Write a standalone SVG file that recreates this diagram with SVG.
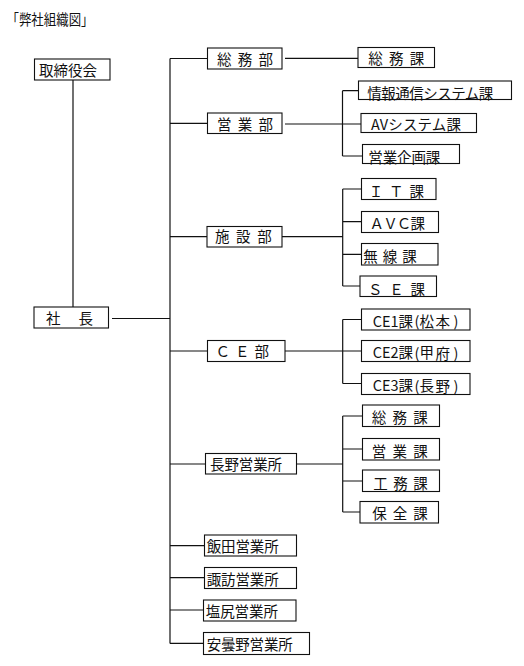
<svg xmlns="http://www.w3.org/2000/svg" width="524" height="666" viewBox="0 0 524 666">
<style>
.box{fill:#fff;stroke:#111;stroke-width:1.1}
.t{font-family:"Noto Sans CJK JP","Noto Sans CJK SC",sans-serif;font-size:14.5px;fill:#111;dominant-baseline:central}
.ln{fill:none;stroke:#111;stroke-width:1.2}
</style>
<rect width="524" height="666" fill="#fff"/>
<text class="t" x="6.5" y="18" font-size="12.5" textLength="87" lengthAdjust="spacingAndGlyphs">「弊社組織図」</text>
<g id="connectors" class="ln">
<path d="M73 80V307"/>
<path d="M112 318.5H170"/>
<path d="M170 58.5V643.5"/>
<path d="M170 58.5H207.5M170 123.3H207.5M170 236.7H207M170 351H207.5M170 464H205.5M170 545.7H204.5M170 577.7H204.5M170 610H203.5M170 643.3H203.5"/>
<path d="M285 58.3H358"/>
<path d="M285 124H342.5M342.5 90.7V156M342.5 90.7H358.5M342.5 124H361M342.5 156H362.5"/>
<path d="M282 236.7H342.7M342.7 189V286M342.7 189H361.5M342.7 221.7H361.5M342.7 254.3H361.5M342.7 286H360"/>
<path d="M285 351H342.7M342.7 319.5V383.5M342.7 319.5H361.5M342.7 351H361.5M342.7 383.5H361.5"/>
<path d="M296.7 464H342.7M342.7 416V512M342.7 416H362.5M342.7 449H362.5M342.7 481H362.5M342.7 512H360"/>
</g>
<g id="n-torishimariyakukai"><rect class="box" x="34.5" y="59" width="75.5" height="21"/><text class="t" x="39" y="69.6" textLength="58">取締役会</text></g>
<g id="n-shacho"><rect class="box" x="34" y="307" width="74.5" height="21"/><text class="t" x="46" y="317.5" textLength="47">社　長</text></g>
<g id="n-somubu"><rect class="box" x="207.5" y="48" width="74.5" height="21"/><text class="t" x="217" y="58.4" textLength="56">総 務 部</text></g>
<g id="n-somuka1"><rect class="box" x="358" y="47.5" width="76.5" height="20"/><text class="t" x="368.3" y="57.5" textLength="56">総 務 課</text></g>
<g id="n-eigyobu"><rect class="box" x="207.5" y="113" width="74.5" height="20.5"/><text class="t" x="217" y="123.3" textLength="56">営 業 部</text></g>
<g id="n-joho"><rect class="box" x="358.5" y="81" width="153" height="18.5"/><text class="t" x="367.3" y="92" textLength="126">情報通信システム課</text></g>
<g id="n-avsys"><rect class="box" x="361" y="113.5" width="115.5" height="19"/><text class="t" x="371" y="123.3" textLength="90">AVシステム課</text></g>
<g id="n-kikaku"><rect class="box" x="362.5" y="144.5" width="97" height="19"/><text class="t" x="368.3" y="156.3" textLength="72">営業企画課</text></g>
<g id="n-shisetsubu"><rect class="box" x="207" y="226.5" width="75" height="20.5"/><text class="t" x="215" y="235.8" textLength="56.7">施 設 部</text></g>
<g id="n-it"><rect class="box" x="361.5" y="178.5" width="74.5" height="21"/><text class="t" x="368.7" y="190" textLength="55.3">Ｉ Ｔ 課</text></g>
<g id="n-avc"><rect class="box" x="361.5" y="211.5" width="77" height="21"/><text class="t" x="369.5" y="222.5" textLength="55.5">ＡＶＣ課</text></g>
<g id="n-musen"><rect class="box" x="361.5" y="243.5" width="76.5" height="21.5"/><text class="t" x="363.3" y="255" textLength="53.4">無 線 課</text></g>
<g id="n-se"><rect class="box" x="360" y="276" width="76.5" height="20.5"/><text class="t" x="368" y="288.3" textLength="57">Ｓ Ｅ 課</text></g>
<g id="n-cebu"><rect class="box" x="207.5" y="340.5" width="77.5" height="21"/><text class="t" x="215.5" y="350.5" textLength="53.5">Ｃ Ｅ 部</text></g>
<g id="n-ce1"><rect class="box" x="361.5" y="309" width="108.5" height="21"/><text class="t" x="372.7" y="320.3">CE1課<tspan dx="1.5">(</tspan>松<tspan dx="1.5">本</tspan><tspan dx="3.5">)</tspan></text></g>
<g id="n-ce2"><rect class="box" x="361.5" y="340.5" width="108.5" height="21"/><text class="t" x="372.7" y="351.7">CE2課<tspan dx="1.5">(</tspan>甲<tspan dx="1.5">府</tspan><tspan dx="3.5">)</tspan></text></g>
<g id="n-ce3"><rect class="box" x="361.5" y="373.5" width="108.5" height="21"/><text class="t" x="372.7" y="384.5">CE3課<tspan dx="1.5">(</tspan>長<tspan dx="1.5">野</tspan><tspan dx="3.5">)</tspan></text></g>
<g id="n-nagano"><rect class="box" x="205.5" y="453.5" width="91" height="20.5"/><text class="t" x="210" y="463" textLength="72">長野営業所</text></g>
<g id="n-somuka2"><rect class="box" x="362.5" y="405" width="77" height="21.5"/><text class="t" x="371.7" y="416.3" textLength="56">総 務 課</text></g>
<g id="n-eigyoka"><rect class="box" x="362.5" y="438.5" width="77" height="21.5"/><text class="t" x="371.7" y="450" textLength="56">営 業 課</text></g>
<g id="n-komuka"><rect class="box" x="362.5" y="470" width="77" height="21.5"/><text class="t" x="373.3" y="482" textLength="54.4">工 務 課</text></g>
<g id="n-hozenka"><rect class="box" x="360" y="501.5" width="78.5" height="21.5"/><text class="t" x="372.3" y="512.5" textLength="55.4">保 全 課</text></g>
<g id="n-iida"><rect class="box" x="204.5" y="535" width="92" height="21"/><text class="t" x="206.7" y="545.3" textLength="72">飯田営業所</text></g>
<g id="n-suwa"><rect class="box" x="204.5" y="567.5" width="92" height="21"/><text class="t" x="206.7" y="578" textLength="72">諏訪営業所</text></g>
<g id="n-shiojiri"><rect class="box" x="203.5" y="600" width="92.5" height="21"/><text class="t" x="205.7" y="610.3" textLength="72.3">塩尻営業所</text></g>
<g id="n-azumino"><rect class="box" x="203.5" y="632.5" width="106" height="22"/><text class="t" x="206.7" y="643.8" textLength="86">安曇野営業所</text></g>
</svg>
